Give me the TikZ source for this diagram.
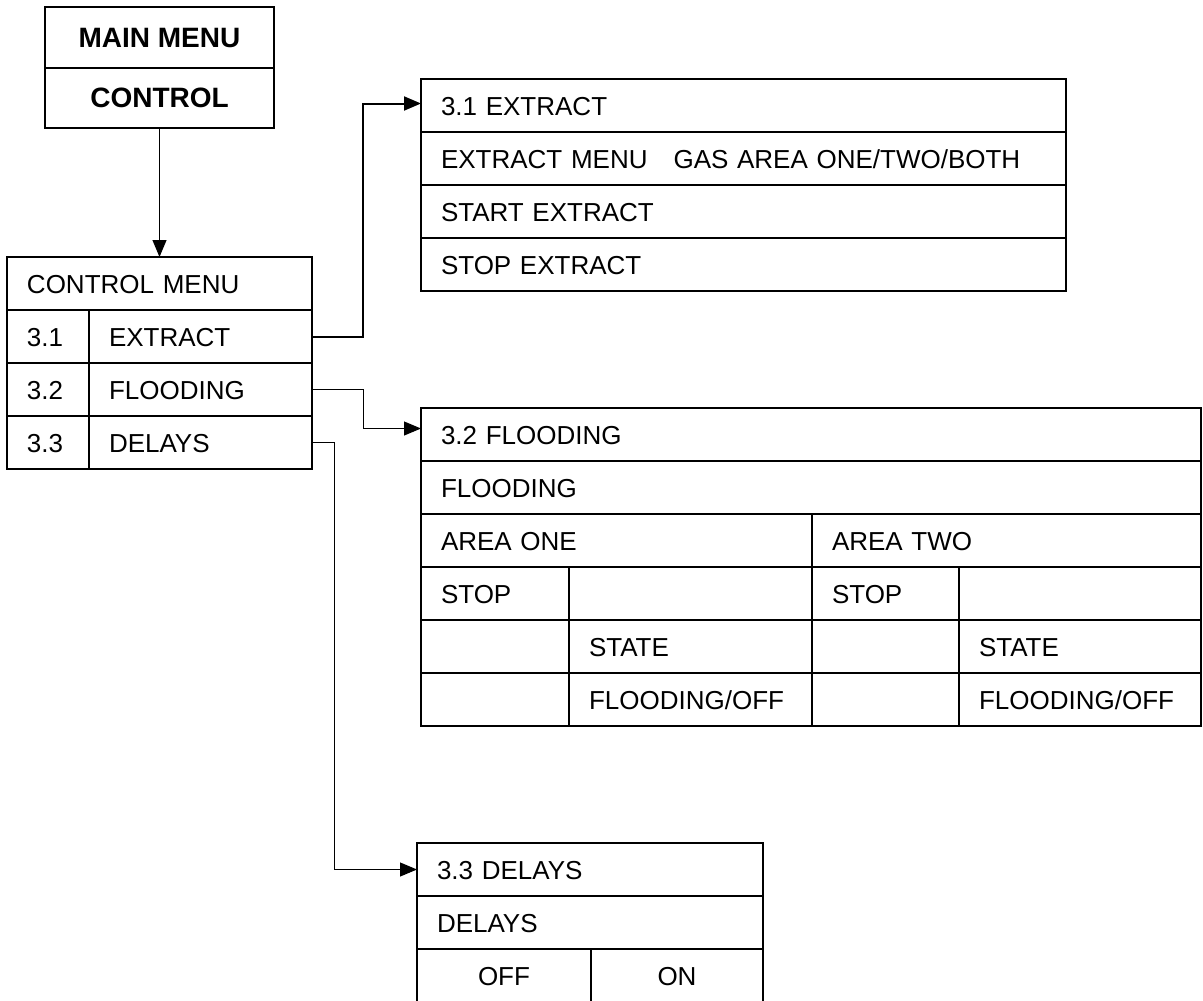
\documentclass[tikz,border=0pt]{standalone}
\usepackage{fontspec}
\setmainfont{Liberation Sans}
\usetikzlibrary{arrows.meta,positioning}
\tikzset{
    menu title/.style={
        draw,
        line width=2pt,
        outer sep=0pt,
        anchor=north west,
        minimum width=229pt,
        minimum height=60.5pt,
        inner sep=0pt,
        font=\bfseries\fontsize{28}{32}\selectfont,
        text height=20pt,
        text depth=0pt
    },
    menu cell/.style={
        draw,
        line width=2pt,
        outer sep=0pt,
        anchor=north west,
        inner xsep=20pt,
        inner ysep=0pt,
        minimum height=53pt,
        text width=#1,
        align=left,
        font=\fontsize{26}{30}\selectfont,
        text height=19pt,
        text depth=0pt
    },
    menu mid/.style={menu cell=#1, align=center},
    menu link/.style={-{Triangle[length=17pt,width=14pt]}, line width=1pt, draw=black},
    menu link thick/.style={menu link, line width=2pt}
}
\begin{document}
\begin{tikzpicture}[x=1pt, y=-1pt]
\useasboundingbox (0,0) rectangle (1203,1001);

% Main menu
\node[menu title] (mm) at (45,7) {MAIN MENU};
\node[menu title, below=0pt of mm] (mmc) {CONTROL};

% Control menu
\node[menu cell=265pt] (cm) at (7,257) {CONTROL MENU};
\node[menu cell=42pt, below right=0pt and 0pt of cm.south west] (c31n) {3.1};
\node[menu cell=183pt, right=0pt of c31n] (c31) {EXTRACT};
\node[menu cell=42pt, below=0pt of c31n] (c32n) {3.2};
\node[menu cell=183pt, right=0pt of c32n] (c32) {FLOODING};
\node[menu cell=42pt, below=0pt of c32n] (c33n) {3.3};
\node[menu cell=183pt, right=0pt of c33n] (c33) {DELAYS};

% 3.1 Extract
\node[menu cell=605pt] (e0) at (421,79) {3.1 EXTRACT};
\node[menu cell=605pt, below=0pt of e0] (e1) {EXTRACT MENU\quad GAS AREA ONE/TWO/BOTH};
\node[menu cell=605pt, below=0pt of e1] (e2) {START EXTRACT};
\node[menu cell=605pt, below=0pt of e2] (e3) {STOP EXTRACT};

% 3.2 Flooding
\node[menu cell=740pt] (f0) at (421,408) {3.2 FLOODING};
\node[menu cell=740pt, below=0pt of f0] (f1) {FLOODING};
\node[menu cell=351pt, below right=0pt and 0pt of f1.south west] (f2a) {AREA ONE};
\node[menu cell=349pt, right=0pt of f2a] (f2b) {AREA TWO};
\node[menu cell=108pt, below right=0pt and 0pt of f2a.south west] (f3a) {STOP};
\node[menu cell=203pt, right=0pt of f3a] (f3b) {};
\node[menu cell=107pt, right=0pt of f3b] (f3c) {STOP};
\node[menu cell=202pt, right=0pt of f3c] (f3d) {};
\node[menu cell=108pt, below=0pt of f3a] (f4a) {};
\node[menu cell=203pt, below=0pt of f3b] (f4b) {STATE};
\node[menu cell=107pt, below=0pt of f3c] (f4c) {};
\node[menu cell=202pt, below=0pt of f3d] (f4d) {STATE};
\node[menu cell=108pt, below=0pt of f4a] (f5a) {};
\node[menu cell=203pt, below=0pt of f4b] (f5b) {FLOODING/OFF};
\node[menu cell=107pt, below=0pt of f4c] (f5c) {};
\node[menu cell=202pt, below=0pt of f4d] (f5d) {FLOODING/OFF};

% 3.3 Delays
\node[menu cell=306pt] (d0) at (417,843) {3.3 DELAYS};
\node[menu cell=306pt, below=0pt of d0] (d1) {DELAYS};
\node[menu mid=134pt, below right=0pt and 0pt of d1.south west] (d2a) {OFF};
\node[menu mid=132pt, right=0pt of d2a] (d2b) {ON};

% Links
\draw[menu link] (mmc.south) -- (cm.north);
\draw[menu link thick] (c31.east) -- ++(51,0) |- ([yshift=2pt]e0.west);
\draw[menu link] (c32.east) -- ++(51,0) |- ([yshift=6pt]f0.west);
\draw[menu link] (c33.east) -- ++(22,0) |- (d0.west);
\end{tikzpicture}
\end{document}
